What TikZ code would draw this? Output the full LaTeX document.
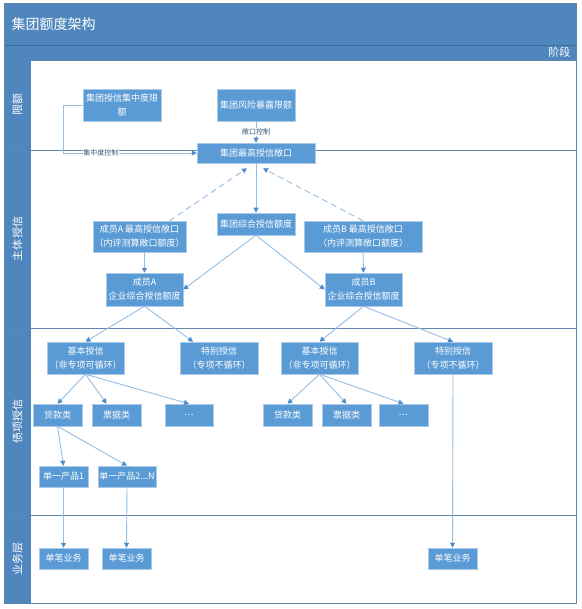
\documentclass[tikz,border=0pt]{standalone}
\usepackage{fontspec}
\newfontfamily\cjk{Noto Sans CJK SC}
\usetikzlibrary{arrows.meta}
\usetikzlibrary{calc}
\definecolor{laneblue}{RGB}{79,134,189}
\definecolor{lanedark}{RGB}{62,108,155}
\definecolor{boxblue}{RGB}{91,155,213}
\definecolor{boxedge}{RGB}{170,202,233}
\definecolor{linkblue}{RGB}{150,190,228}
\definecolor{tipblue}{RGB}{79,140,205}
\definecolor{frameline}{RGB}{95,135,175}
\tikzset{every picture/.style={line width=0.75pt}}
\tikzset{
  blk/.style={draw=boxedge, line width=0.5pt, fill=boxblue, text=white, align=center,
    inner sep=0pt, font=\cjk\fontsize{9}{14}\selectfont},
  link/.style={draw=linkblue, line width=0.9pt, -{Triangle[length=5pt,width=5pt,color=tipblue]}},
  dlink/.style={link, dash pattern=on 6pt off 4pt},
  lbl/.style={fill=white, inner sep=0.5pt, text=lanedark!80!black, font=\cjk\fontsize{7}{8}\selectfont},
  lanetxt/.style={rotate=90, text=white, font=\cjk\fontsize{11}{12}\selectfont}
}

\begin{document}
\begin{tikzpicture}[x=1pt,y=1pt,yscale=-1,xscale=1]
\useasboundingbox (0,0) rectangle (581,609);

%Swimlane frame
\fill [white] (4,3) rectangle (576,603);
\fill [laneblue] (4,3) rectangle (576,60);
\fill [laneblue] (4,60) rectangle (31,603);
\draw [lanedark, line width=0.6pt] (4,45) -- (576,45);
\draw [frameline, line width=0.8pt] (31,60) -- (576,60);
\draw [frameline, line width=0.8pt] (4,150) -- (576,150);
\draw [frameline, line width=0.8pt] (4,328) -- (576,328);
\draw [frameline, line width=0.8pt] (4,515) -- (576,515);
\draw [frameline, line width=0.8pt] (4,3) rectangle (576,603);

% Text Node
\node (title) [anchor=west, text=white, font=\cjk\fontsize{14}{16}\selectfont] at (8,24) {集团额度架构};
\node (stage) [anchor=east, text=white, font=\cjk\fontsize{11}{12}\selectfont] at (574,52) {阶段};
\node (laneLimit) [lanetxt] at (17.5,105) {限额};
\node (laneMain) [lanetxt] at (17.5,239) {主体授信};
\node (laneDebt) [lanetxt] at (17.5,421.5) {债项授信};
\node (laneBiz) [lanetxt] at (17.5,559) {业务层};

%Limits
\node (jzd) [blk, minimum width=78, minimum height=32] at (122,105) {集团授信集中度限\\额};
\node (fxbl) [blk, minimum width=78, minimum height=32] at (256,105) {集团风险暴露限额};
\node (zgck) [blk, minimum width=118, minimum height=20] at (256,153) {集团最高授信敞口};

%Main credit
\node (zhsx) [blk, minimum width=78, minimum height=22] at (256,224) {集团综合授信额度};
\node (cyAmax) [blk, minimum width=93, minimum height=31] at (139.5,236.5) {成员A 最高授信敞口\\（内评测算敞口额度）};
\node (cyBmax) [blk, minimum width=118, minimum height=31] at (363,236.5) {成员B 最高授信敞口\\（内评测算敞口额度）};
\node (cyA) [blk, minimum width=77, minimum height=33] at (144.5,289.5) {成员A\\企业综合授信额度};
\node (cyB) [blk, minimum width=77, minimum height=33] at (363.5,289.5) {成员B\\企业综合授信额度};

%Debt credit
\node (jbA) [blk, minimum width=77, minimum height=32] at (85.5,358) {基本授信\\（非专项可循环）};
\node (tbA) [blk, minimum width=78, minimum height=32] at (219,358) {特别授信\\（专项不循环）};
\node (jbB) [blk, minimum width=77, minimum height=32] at (319.5,358) {基本授信\\（非专项可循环）};
\node (tbB) [blk, minimum width=78, minimum height=32] at (453,358) {特别授信\\（专项不循环）};
\node (dkA) [blk, minimum width=49, minimum height=22] at (57.5,415) {贷款类};
\node (pjA) [blk, minimum width=49, minimum height=22] at (116.5,415) {票据类};
\node (qtA) [blk, minimum width=48, minimum height=22] at (189,415) {…};
\node (dkB) [blk, minimum width=49, minimum height=22] at (287.5,415) {贷款类};
\node (pjB) [blk, minimum width=49, minimum height=22] at (346.5,415) {票据类};
\node (qtB) [blk, minimum width=49, minimum height=22] at (403.5,415) {…};
\node (dy1) [blk, minimum width=49, minimum height=21] at (63.5,476.5) {单一产品1};
\node (dy2) [blk, minimum width=58, minimum height=21] at (127,476.5) {单一产品2...N};

%Business layer
\node (bz1) [blk, minimum width=49, minimum height=21] at (63.5,558.5) {单笔业务};
\node (bz2) [blk, minimum width=49, minimum height=21] at (126.5,558.5) {单笔业务};
\node (bz3) [blk, minimum width=49, minimum height=21] at (452.5,558.5) {单笔业务};

%Connectors
\draw [link] (fxbl.south) -- node [lbl] {敞口控制} (zgck.north);
\draw [link] (jzd.west) -- ++(-19,0) |- node [lbl, pos=0.64] {集中度控制} (zgck.west);
\draw [link] (zgck.south) -- (zhsx.north);
\draw [dlink] ($(cyAmax.north)+(30,0)$) -- ($(zgck.south)+(-9,5)$);
\draw [dlink] (cyBmax.north) -- ($(zgck.south)+(7,5)$);
\draw [link] (zhsx.south) -- (cyA.east);
\draw [link] (zhsx.south) -- (cyB.west);
\draw [link] (cyAmax.south -| cyA.north) -- (cyA.north);
\draw [link] (cyBmax.south) -- (cyB.north);
\draw [link] (cyA.south) -- (jbA.north);
\draw [link] (cyA.south) -- ($(tbA.north west)!0.17!(tbA.north east)$);
\draw [link] (cyB.south) -- (jbB.north);
\draw [link] (cyB.south) -- (tbB.north);
\draw [link] (jbA.south) -- (dkA.north);
\draw [link] (jbA.south) -- ($(pjA.north west)!0.3!(pjA.north east)$);
\draw [link] (jbA.south) -- (qtA.north);
\draw [link] (jbB.south) -- (dkB.north);
\draw [link] (jbB.south) -- (pjB.north);
\draw [link] (jbB.south) -- (qtB.north);
\draw [link] (dkA.south) -- (dy1.north);
\draw [link] (dkA.south) -- (dy2.north);
\draw [link] (dy1.south) -- (bz1.north);
\draw [link] (dy2.south) -- (bz2.north);
\draw [link] (tbB.south) -- (bz3.north);

\end{tikzpicture}
\end{document}
